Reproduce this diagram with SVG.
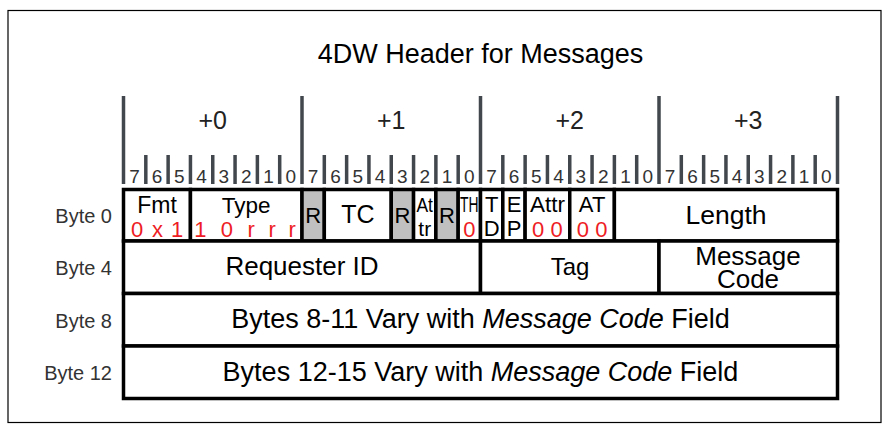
<svg xmlns="http://www.w3.org/2000/svg" width="894" height="431" viewBox="0 0 894 431">
<style>
text{font-family:"Liberation Sans",Arial,sans-serif;fill:#000;text-anchor:middle}
.t{font-size:27px}
.hdr{font-size:25px;fill:#222}
.bit{font-size:19px;fill:#333}
.lbl{font-size:20px;fill:#333;text-anchor:end}
.f{font-size:22px}
.red{fill:#ee1c24;font-size:22px}
.big{font-size:27px}
.tick{stroke:#41474d;stroke-width:3.5}
.cell{fill:#fff;stroke:#000;stroke-width:3.5}
.gray{fill:#c0c0c0;stroke:#000;stroke-width:3.5}
</style>
<rect x="8" y="10.5" width="873" height="412" fill="#fff" stroke="#000" stroke-width="1.2"/>
<text class="t" x="480.5" y="63">4DW Header for Messages</text>

<g id="ruler">
<g class="tick">
<line x1="123.5" y1="96" x2="123.5" y2="184"/>
<line x1="302" y1="96" x2="302" y2="184"/>
<line x1="480.5" y1="96" x2="480.5" y2="184"/>
<line x1="659" y1="96" x2="659" y2="184"/>
<line x1="837.5" y1="96" x2="837.5" y2="184"/>
<line x1="145.81" y1="155" x2="145.81" y2="184"/>
<line x1="168.13" y1="155" x2="168.13" y2="184"/>
<line x1="190.44" y1="155" x2="190.44" y2="184"/>
<line x1="212.75" y1="155" x2="212.75" y2="184"/>
<line x1="235.06" y1="155" x2="235.06" y2="184"/>
<line x1="257.38" y1="155" x2="257.38" y2="184"/>
<line x1="279.69" y1="155" x2="279.69" y2="184"/>
<line x1="324.31" y1="155" x2="324.31" y2="184"/>
<line x1="346.63" y1="155" x2="346.63" y2="184"/>
<line x1="368.94" y1="155" x2="368.94" y2="184"/>
<line x1="391.25" y1="155" x2="391.25" y2="184"/>
<line x1="413.56" y1="155" x2="413.56" y2="184"/>
<line x1="435.88" y1="155" x2="435.88" y2="184"/>
<line x1="458.19" y1="155" x2="458.19" y2="184"/>
<line x1="502.81" y1="155" x2="502.81" y2="184"/>
<line x1="525.13" y1="155" x2="525.13" y2="184"/>
<line x1="547.44" y1="155" x2="547.44" y2="184"/>
<line x1="569.75" y1="155" x2="569.75" y2="184"/>
<line x1="592.06" y1="155" x2="592.06" y2="184"/>
<line x1="614.38" y1="155" x2="614.38" y2="184"/>
<line x1="636.69" y1="155" x2="636.69" y2="184"/>
<line x1="681.31" y1="155" x2="681.31" y2="184"/>
<line x1="703.63" y1="155" x2="703.63" y2="184"/>
<line x1="725.94" y1="155" x2="725.94" y2="184"/>
<line x1="748.25" y1="155" x2="748.25" y2="184"/>
<line x1="770.56" y1="155" x2="770.56" y2="184"/>
<line x1="792.88" y1="155" x2="792.88" y2="184"/>
<line x1="815.19" y1="155" x2="815.19" y2="184"/>
</g>
<text class="hdr" x="212.75" y="129">+0</text>
<text class="hdr" x="391.25" y="129">+1</text>
<text class="hdr" x="569.75" y="129">+2</text>
<text class="hdr" x="748.25" y="129">+3</text>
<text class="bit" y="182.5"><tspan x="134.66">7</tspan><tspan x="156.97">6</tspan><tspan x="179.28">5</tspan><tspan x="201.59">4</tspan><tspan x="223.91">3</tspan><tspan x="246.22">2</tspan><tspan x="268.53">1</tspan><tspan x="290.84">0</tspan><tspan x="313.16">7</tspan><tspan x="335.47">6</tspan><tspan x="357.78">5</tspan><tspan x="380.09">4</tspan><tspan x="402.41">3</tspan><tspan x="424.72">2</tspan><tspan x="447.03">1</tspan><tspan x="469.34">0</tspan><tspan x="491.66">7</tspan><tspan x="513.97">6</tspan><tspan x="536.28">5</tspan><tspan x="558.59">4</tspan><tspan x="580.91">3</tspan><tspan x="603.22">2</tspan><tspan x="625.53">1</tspan><tspan x="647.84">0</tspan><tspan x="670.16">7</tspan><tspan x="692.47">6</tspan><tspan x="714.78">5</tspan><tspan x="737.09">4</tspan><tspan x="759.41">3</tspan><tspan x="781.72">2</tspan><tspan x="804.03">1</tspan><tspan x="826.34">0</tspan></text>
</g>

<g id="row-labels">
<text class="lbl" x="112" y="223">Byte 0</text>
<text class="lbl" x="112" y="275">Byte 4</text>
<text class="lbl" x="112" y="328">Byte 8</text>
<text class="lbl" x="112" y="380">Byte 12</text>
</g>

<g id="fmt"><rect class="cell" x="123.5" y="189.5" width="66.94" height="51.5"/>
<text class="f" x="157" y="213" style="font-size:23px">Fmt</text>
<text class="red" x="131 152 171" y="236.5" style="text-anchor:start">0x1</text></g>
<g id="type"><rect class="cell" x="190.44" y="189.5" width="111.56" height="51.5"/>
<text class="f" x="246.2" y="213" style="font-size:22.5px">Type</text>
<text class="red" x="194.3 220.8 247.5 268.5 288.5" y="236.5" style="text-anchor:start">10rrr</text></g>
<g id="r1"><rect class="gray" x="302" y="189.5" width="22.31" height="51.5"/>
<text class="f" x="313.16" y="223">R</text></g>
<g id="tc"><rect class="cell" x="324.31" y="189.5" width="66.94" height="51.5"/>
<text class="f" x="357.8" y="223" style="font-size:25px">TC</text></g>
<g id="r2"><rect class="gray" x="391.25" y="189.5" width="22.31" height="51.5"/>
<text class="f" x="402.41" y="223">R</text></g>
<g id="attr1"><rect class="cell" x="413.56" y="189.5" width="22.31" height="51.5"/>
<text class="f" x="424.72" y="212" style="font-size:21px" textLength="16.5" lengthAdjust="spacingAndGlyphs">At</text>
<text class="f" x="424.72" y="236" style="font-size:21px">tr</text></g>
<g id="r3"><rect class="gray" x="435.88" y="189.5" width="22.31" height="51.5"/>
<text class="f" x="447.03" y="223">R</text></g>
<g id="th"><rect class="cell" x="458.19" y="189.5" width="22.31" height="51.5"/>
<text class="f" x="469.34" y="212" style="font-size:22px" textLength="18.5" lengthAdjust="spacingAndGlyphs">TH</text>
<text class="red" x="469.34" y="236.5">0</text></g>
<g id="td"><rect class="cell" x="480.5" y="189.5" width="22.31" height="51.5"/>
<text class="f" x="491.66" y="211.5">T</text>
<text class="f" x="491.66" y="236">D</text></g>
<g id="ep"><rect class="cell" x="502.81" y="189.5" width="22.31" height="51.5"/>
<text class="f" x="513.97" y="211.5">E</text>
<text class="f" x="513.97" y="236">P</text></g>
<g id="attr2"><rect class="cell" x="525.13" y="189.5" width="44.62" height="51.5"/>
<text class="f" x="547.4" y="212" style="font-size:22.5px">Attr</text>
<text class="red" x="547.4" y="236.5">0 0</text></g>
<g id="at"><rect class="cell" x="569.75" y="189.5" width="44.63" height="51.5"/>
<text class="f" x="592.1" y="212">AT</text>
<text class="red" x="592.1" y="236.5">0 0</text></g>
<g id="length"><rect class="cell" x="614.38" y="189.5" width="223.12" height="51.5"/>
<text class="big" x="726" y="224" style="font-size:26.5px">Length</text></g>

<g id="requester-id"><rect class="cell" x="123.5" y="241" width="357" height="52.5"/>
<text class="big" x="302" y="275" style="font-size:26px">Requester ID</text></g>
<g id="tag"><rect class="cell" x="480.5" y="241" width="178.5" height="52.5"/>
<text class="big" x="570" y="275" style="font-size:24px">Tag</text></g>
<g id="message-code"><rect class="cell" x="659" y="241" width="178.5" height="52.5"/>
<text class="big" x="748" y="265" style="font-size:26px">Message</text>
<text class="big" x="748" y="288" style="font-size:26px">Code</text></g>

<g id="bytes8"><rect class="cell" x="123.5" y="293.5" width="714" height="52.5"/>
<text class="big" x="480.5" y="328">Bytes 8-11 Vary with <tspan font-style="italic">Message Code</tspan> Field</text></g>
<g id="bytes12"><rect class="cell" x="123.5" y="346" width="714" height="52.5"/>
<text class="big" x="480.5" y="380.5">Bytes 12-15 Vary with <tspan font-style="italic">Message Code</tspan> Field</text></g>

<g id="connectors"></g>
</svg>
